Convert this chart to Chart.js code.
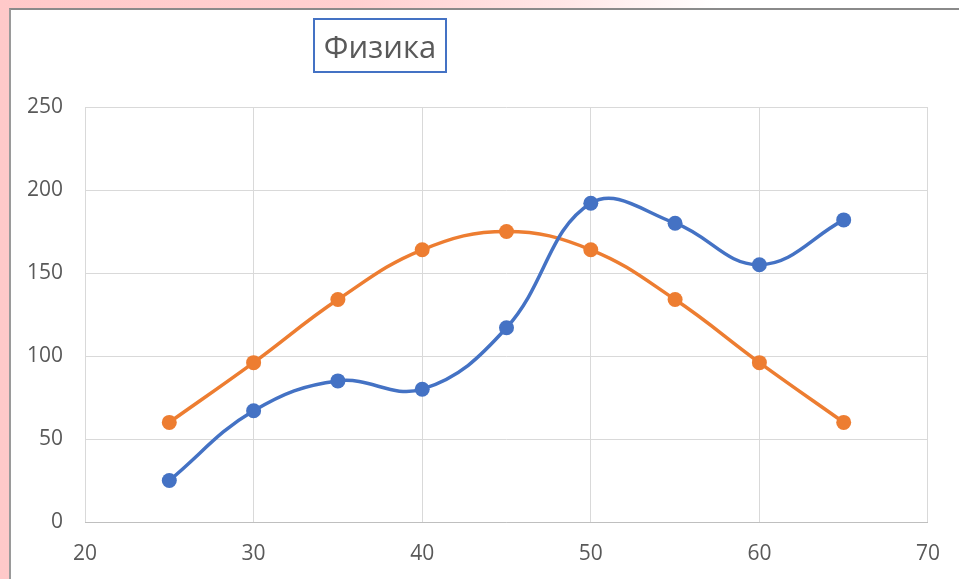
<!DOCTYPE html>
<html>
<head>
<meta charset="utf-8">
<script src="https://cdn.jsdelivr.net/npm/chart.js@4"></script>
<style>
  html, body { margin: 0; padding: 0; }
  body {
    width: 959px; height: 579px; overflow: hidden; position: relative;
    background: linear-gradient(to right, #ffc9c9 0px, #ffd0d0 350px, #ffe6e6 560px, #ffffff 720px);
  }
  #frame {
    position: absolute; left: 9px; top: 8px; right: 0; bottom: 0;
    background: #fff; border-left: 2px solid #9a9a9a; border-top: 2px solid #8a8a8a;
  }
  #title {
    position: absolute; left: 313px; top: 18px; width: 130px; height: 51px;
    border: 2px solid #4472c4; box-sizing: content-box;
    font-family: "Open Sans", sans-serif; font-size: 31px; color: #595959;
    display: flex; align-items: center; justify-content: center;
  }
  #wrap { position: absolute; left: 0; top: 0; width: 959px; height: 579px; }
</style>
</head>
<body>
<div id="frame"></div>
<div id="wrap"><canvas id="physicsChart" width="959" height="579"></canvas></div>
<div id="title">Физика</div>
<script>
const xValues = [25, 30, 35, 40, 45, 50, 55, 60, 65];
const blueValues = [25, 67, 85, 80, 117, 192, 180, 155, 182];
const orangeValues = [60, 96, 134, 164, 175, 164, 134, 96, 60];

const toPoints = (ys) => xValues.map((x, i) => ({ x, y: ys[i] }));

function makeSeries(values, color) {
  return {
    data: toPoints(values),
    borderColor: color,
    backgroundColor: color,
    borderWidth: 3.5,
    pointRadius: 7.5,
    pointHoverRadius: 7.5,
    pointBorderWidth: 0,
    tension: 0.4,
    fill: false,
  };
}

const tickFont = { family: '"Open Sans", sans-serif', size: 21 };

document.addEventListener('DOMContentLoaded', () => {
  const ctx = document.getElementById('physicsChart');
  // eslint-disable-next-line no-unused-vars,no-undef
  const chart = new Chart(ctx, {
    type: 'line',
    data: {
      datasets: [
        makeSeries(blueValues, '#4472c4'),
        makeSeries(orangeValues, '#ed7d31'),
      ],
    },
    options: {
      responsive: false,
      animation: false,
      layout: { padding: { left: 10, top: 107, right: 31, bottom: 0 } },
      plugins: { legend: { display: false }, tooltip: { enabled: false } },
      scales: {
        x: {
          type: 'linear',
          min: 20,
          max: 70,
          ticks: { stepSize: 10, color: '#595959', font: tickFont, padding: 19 },
          grid: { color: '#d9d9d9', lineWidth: 1, drawTicks: false },
          border: { color: '#bfbfbf', width: 1 },
          afterFit: (scale) => { scale.height = 57; },
        },
        y: {
          min: 0,
          max: 250,
          ticks: { stepSize: 50, color: '#595959', font: tickFont, padding: 22 },
          grid: { color: '#d9d9d9', lineWidth: 1, drawTicks: false },
          border: { display: false },
          afterFit: (scale) => { scale.width = 75; },
        },
      },
    },
  });
});
</script>
</body>
</html>
